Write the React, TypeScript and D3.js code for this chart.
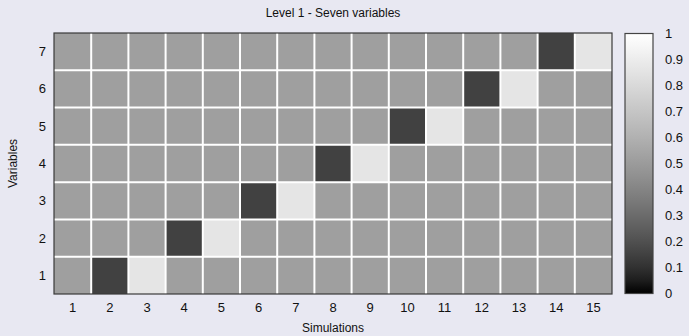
import React from "react";
import * as d3 from "d3";

const simulations = d3.range(1, 16);
const variables = d3.range(1, 8);
const baseValue = 0.52;
// [simulation, variable, value]
const specialCells: [number, number, number][] = [
  [2, 1, 0.15], [3, 1, 0.86],
  [4, 2, 0.15], [5, 2, 0.86],
  [6, 3, 0.15], [7, 3, 0.86],
  [8, 4, 0.15], [9, 4, 0.86],
  [10, 5, 0.15], [11, 5, 0.86],
  [12, 6, 0.15], [13, 6, 0.86],
  [14, 7, 0.15], [15, 7, 0.86],
];
const colorTicks = [0, 0.1, 0.2, 0.3, 0.4, 0.5, 0.6, 0.7, 0.8, 0.9, 1];

const W = 689, H = 336;
const plot = { left: 54, right: 612, top: 33, bottom: 294 };
const cbar = { left: 625, right: 653, top: 33.5, bottom: 293.5 };
const font = "'Liberation Sans', Arial, Helvetica, sans-serif";

const grayOf = (v: number) => {
  const g = Math.round(255 * Math.pow(Math.max(0, Math.min(1, v)), 0.72));
  return `rgb(${g},${g},${g})`;
};

export default function App() {
  const x = d3.scaleBand<number>().domain(simulations).range([plot.left, plot.right]);
  const y = d3.scaleBand<number>().domain(variables).range([plot.bottom, plot.top]);
  const cy = d3.scaleLinear().domain([0, 1]).range([cbar.bottom, cbar.top]);

  const valueOf = (s: number, v: number) => {
    const f = specialCells.find((c) => c[0] === s && c[1] === v);
    return f ? f[2] : baseValue;
  };

  const cells: { s: number; v: number; val: number }[] = [];
  for (const v of variables) for (const s of simulations) cells.push({ s, v, val: valueOf(s, v) });

  const stops = d3.range(0, 1.0001, 0.05);

  return (
    <svg width={W} height={H} style={{ position: "absolute", left: 0, top: 0, background: "#E8E8F2" }} fontFamily={font}>
      <rect x={0} y={0} width={W} height={H} fill="#E8E8F2" />
      <defs>
        <linearGradient id="cb" x1="0" y1="1" x2="0" y2="0">
          {stops.map((t) => (
            <stop key={t} offset={t} stopColor={grayOf(t)} />
          ))}
        </linearGradient>
      </defs>
      <text x={(plot.left + plot.right) / 2} y={17} textAnchor="middle" fontSize={12} fill="#111">
        Level 1 - Seven variables
      </text>
      {cells.map((c) => (
        <rect key={`${c.s}-${c.v}`} x={x(c.s)} y={y(c.v)} width={x.bandwidth()} height={y.bandwidth()} fill={grayOf(c.val)} />
      ))}
      {simulations.slice(1).map((s) => (
        <line key={`gx${s}`} x1={x(s)} x2={x(s)} y1={plot.top} y2={plot.bottom} stroke="#fff" strokeWidth={2} />
      ))}
      {variables.slice(1).map((v) => (
        <line key={`gy${v}`} x1={plot.left} x2={plot.right} y1={y(v)! + y.bandwidth()} y2={y(v)! + y.bandwidth()} stroke="#fff" strokeWidth={2} />
      ))}
      <rect x={plot.left} y={plot.top} width={plot.right - plot.left} height={plot.bottom - plot.top} fill="none" stroke="#3a3a3a" strokeWidth={1.2} />
      {simulations.map((s) => (
        <text key={`xt${s}`} x={x(s)! + x.bandwidth() / 2} y={312} textAnchor="middle" fontSize={13} fill="#111">
          {s}
        </text>
      ))}
      {variables.map((v) => (
        <text key={`yt${v}`} x={46} y={y(v)! + y.bandwidth() / 2 + 4.5} textAnchor="end" fontSize={13} fill="#111">
          {v}
        </text>
      ))}
      <text x={(plot.left + plot.right) / 2} y={332} textAnchor="middle" fontSize={12} fill="#111">
        Simulations
      </text>
      <text transform={`translate(17,${(plot.top + plot.bottom) / 2}) rotate(-90)`} textAnchor="middle" fontSize={12} fill="#111">
        Variables
      </text>
      <rect x={cbar.left} y={cbar.top} width={cbar.right - cbar.left} height={cbar.bottom - cbar.top} fill="url(#cb)" stroke="#444" strokeWidth={1.2} />
      {colorTicks.map((t) => (
        <text key={`ct${t}`} x={665} y={cy(t) + 4.5} fontSize={13} fill="#111">
          {t}
        </text>
      ))}
    </svg>
  );
}
